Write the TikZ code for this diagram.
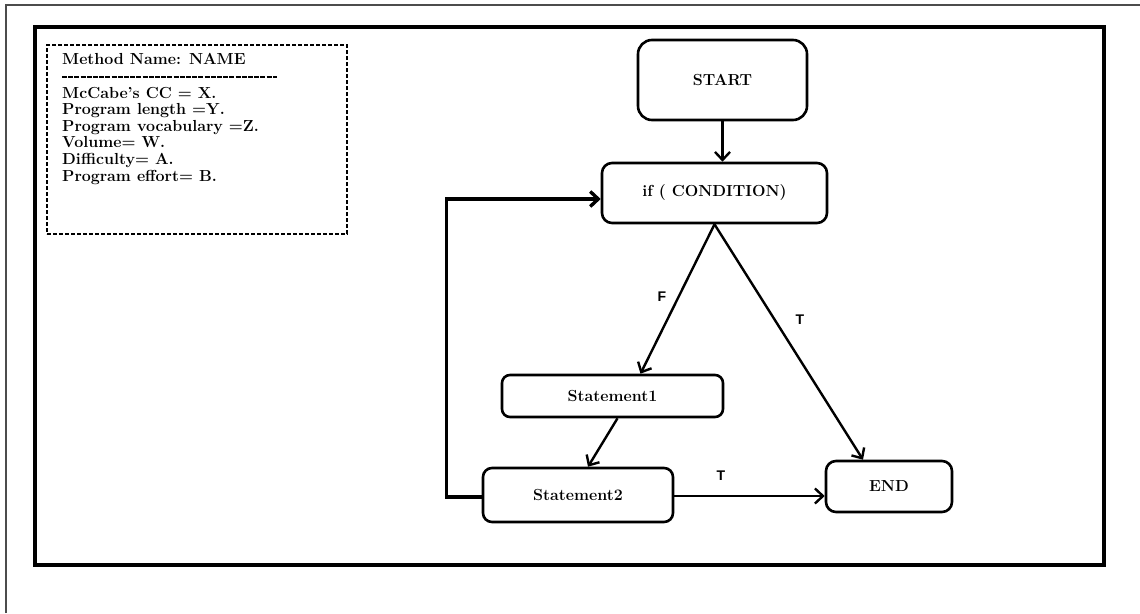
\documentclass[tikz,border=0pt]{standalone}
\usepackage{fontspec}
\newfontfamily\labelfont{Liberation Sans}
\usetikzlibrary{arrows.meta,calc}
\begin{document}
\begin{tikzpicture}[x=1pt,y=-1pt,
  flowbox/.style={draw, line width=2.6pt, rounded corners=10pt, inner sep=0pt,
    font=\fontsize{16}{18}\selectfont\bfseries},
  flow/.style={line width=2.4pt, -{Straight Barb[length=8pt,width=15pt]}},
  loopline/.style={line width=3.4pt, -{Straight Barb[length=8pt,width=15pt]}},
  branchlabel/.style={inner sep=0pt, font=\labelfont\bfseries\fontsize{14}{16}\selectfont},
  infotext/.style={anchor=base west, inner sep=0pt,
    font=\fontsize{16}{18}\selectfont\bfseries}
]
\useasboundingbox (0,0) rectangle (1140,613);

% page rule along the top and left edges
\draw[black!70, line width=1.6pt] (6,613) -- (6,5) -- (1140,5);
% heavy frame around the whole chart
\draw[line width=4pt] (35,26.7) rectangle (1103.7,565.3);

% metrics summary panel
\node[draw, dashed, line width=1.3pt, dash pattern=on 4pt off 2pt,
      minimum width=300pt, minimum height=189pt, inner sep=0pt] (info) at (197,139.5) {};
\node[infotext] (info0) at (62,64) {Method Name: NAME};
\draw[line width=1.2pt, dash pattern=on 5pt off 1.2pt] (62,77) -- (277,77);
\foreach \t/\yy [count=\i] in {{McCabe's CC = X.}/98, {Program length =Y.}/114.6,
    {Program vocabulary =Z.}/131.2, {Volume= W.}/147.8, {Difficulty= A.}/164.4,
    {Program effort= B.}/181}
  \node[infotext] (info\i) at (62,\yy) {\t};

% flow chart nodes
\node[flowbox, rounded corners=14pt, minimum width=169pt, minimum height=80pt] (start) at (722.5,80) {START};
\node[flowbox, minimum width=225pt, minimum height=60pt] (cond) at (714.5,193) {if ( CONDITION)};
\node[flowbox, rounded corners=8pt, minimum width=221pt, minimum height=42pt] (s1) at (612.5,396) {Statement1};
\node[flowbox, rounded corners=9pt, minimum width=190pt, minimum height=54pt] (s2) at (578,495) {Statement2};
\node[flowbox, minimum width=126pt, minimum height=51pt] (end) at (889,486.5) {END};

% connectors
\draw[flow] (start.south) -- (start.south |- cond.north);
\draw[flow] (cond.south) -- ([xshift=28pt]s1.north);
\draw[flow] (cond.south) -- ([xshift=-26pt]end.north);
\draw[flow] ([xshift=5pt]s1.south) -- ([xshift=10pt]s2.north);
\draw[flow] ([yshift=-1pt]s2.east) -- ([yshift=-1pt]s2.east -| end.west);
\draw[loopline] ([yshift=-2pt]s2.west) -- ++(-35,0) |- ([yshift=-6pt]cond.west);

% branch labels
\node[branchlabel] (lf) at (662,297) {F};
\node[branchlabel] (lt1) at (800,320) {T};
\node[branchlabel] (lt2) at (721,476) {T};
\end{tikzpicture}
\end{document}
